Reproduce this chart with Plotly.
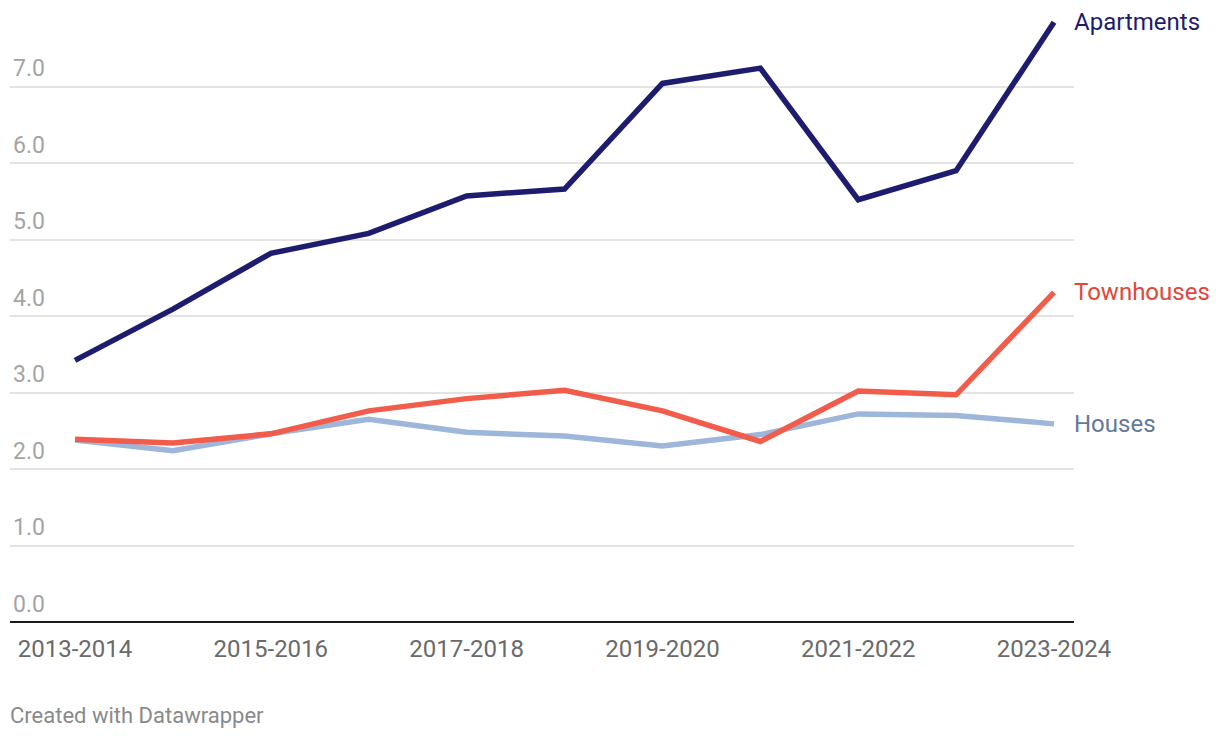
import plotly.graph_objects as go

categories = ["2013-2014", "2014-2015", "2015-2016", "2016-2017", "2017-2018", "2018-2019",
              "2019-2020", "2020-2021", "2021-2022", "2022-2023", "2023-2024"]
apartments = [3.42, 4.09, 4.82, 5.08, 5.57, 5.66, 7.04, 7.24, 5.52, 5.90, 7.84]
townhouses = [2.39, 2.34, 2.46, 2.76, 2.92, 3.03, 2.76, 2.36, 3.02, 2.97, 4.31]
houses = [2.38, 2.24, 2.46, 2.65, 2.48, 2.43, 2.30, 2.45, 2.72, 2.70, 2.59]

x_tick_labels = categories[::2]
y_tick_values = [0, 1, 2, 3, 4, 5, 6, 7]
y_tick_labels = ["0.0", "1.0", "2.0", "3.0", "4.0", "5.0", "6.0", "7.0"]

series = [
    ("Houses", houses, "#9db6d9", "#62799a"),
    ("Townhouses", townhouses, "#f15d4a", "#e0463a"),
    ("Apartments", apartments, "#1e1c6e", "#1e1c6e"),
]

FONT = "Roboto"
fig = go.Figure()
for name, vals, color, lab_color in series:
    fig.add_trace(go.Scatter(
        x=categories, y=vals, mode="lines", name=name,
        line=dict(color=color, width=5.5), cliponaxis=False, hoverinfo="skip",
    ))
    fig.add_annotation(
        x=categories[-1], y=vals[-1], text=name, showarrow=False,
        xanchor="left", yanchor="middle", xshift=18,
        font=dict(family=FONT, size=24, color=lab_color),
    )

fig.add_annotation(
    xref="paper", yref="paper", x=0, y=0, xanchor="left", yanchor="top",
    xshift=-2, yshift=-79, text="Created with Datawrapper", showarrow=False,
    font=dict(family=FONT, size=22, color="#8a8a8a"),
)

fig.update_layout(
    width=1212, height=730,
    margin=dict(l=2, r=146, t=2, b=116),
    paper_bgcolor="white", plot_bgcolor="white",
    showlegend=False,
    font=dict(family=FONT),
    xaxis=dict(
        type="category", range=[-0.664, 10.204],
        tickvals=x_tick_labels, ticktext=x_tick_labels,
        showgrid=False, zeroline=False, showline=False,
        ticks="", ticklabelstandoff=10,
        tickfont=dict(family=FONT, size=24, color="#6a6a6a"),
    ),
    yaxis=dict(
        range=[0, 8], tickvals=y_tick_values, ticktext=y_tick_labels,
        ticklabelposition="inside top", ticklabelstandoff=0, ticklabelshift=-2,
        showgrid=True, gridcolor="#e3e3e3", gridwidth=1.5,
        zeroline=True, zerolinecolor="#1a1a1a", zerolinewidth=2,
        showline=False, ticks="",
        tickfont=dict(family=FONT, size=23, color="#a4a4a4"),
    ),
)

fig.write_html("out.html")
